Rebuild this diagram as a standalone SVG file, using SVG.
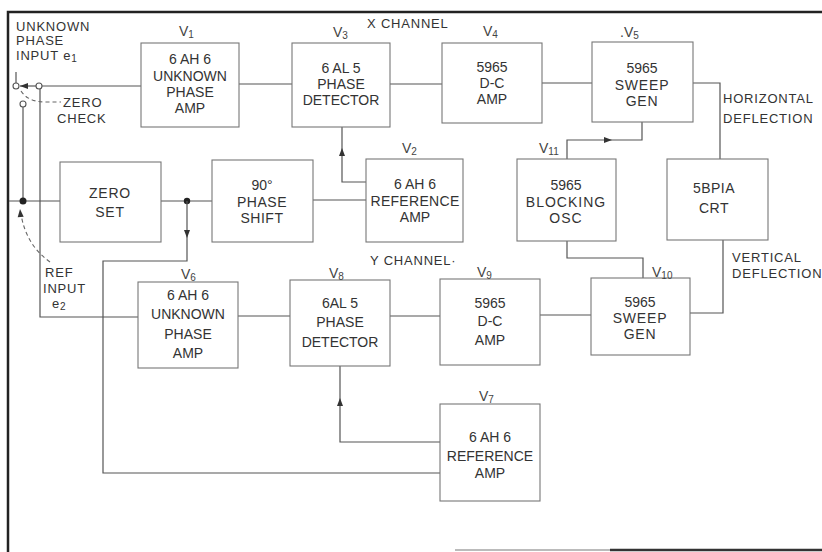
<svg xmlns="http://www.w3.org/2000/svg" width="822" height="552" viewBox="0 0 822 552">
<style>
  .box{fill:#fff;stroke:#777;stroke-width:1.1}
  .t{font-family:"Liberation Sans",Arial,sans-serif;font-size:14px;fill:#333;text-anchor:middle}
  .l{font-family:"Liberation Sans",Arial,sans-serif;font-size:13px;fill:#333;letter-spacing:0.8px}
  .v{font-family:"Liberation Sans",Arial,sans-serif;font-size:14px;fill:#444}
  .sub{font-size:10px}
  .w{fill:none;stroke:#555;stroke-width:1.2}
  .d{fill:none;stroke:#666;stroke-width:1.1;stroke-dasharray:4 3}
  .ah{fill:#333}
  .frame{stroke:#222;stroke-width:2.5;fill:none}
</style>
<defs>
  <path id="ah" d="M0,0 L-8,-3 L-8,3 Z"/>
</defs>
<rect width="822" height="552" fill="#fff"/>
<g id="frame">
  <path class="frame" d="M8,552 L8,12 L822,12"/>
  <path d="M455,550 L610,550" stroke="#bbb" stroke-width="2"/>
  <path d="M610,550 L822,550" stroke="#333" stroke-width="2.5"/>
</g>

<g id="connectors">
  <!-- input switch -->
  <path class="w" d="M16,72 L16,83"/>
  <path class="w" d="M36,86 L20,86"/>
  <use href="#ah" class="ah" transform="translate(20,86) rotate(180)"/>
  <path class="w" d="M42,86 L141,86"/>
  <path class="w" d="M40,89 L40,317 L138,317"/>
  <path class="w" d="M23,107 L23,201"/>
  <path class="w" d="M9,201 L60,201"/>
  <path class="d" d="M21,91 Q28,102 46,102 L61,102"/>
  <path class="d" d="M50,262 Q26,245 21,214"/>
  <use href="#ah" class="ah" transform="translate(20,209) rotate(-95)"/>
  <!-- X channel -->
  <path class="w" d="M239,84 L292,84"/>
  <path class="w" d="M390,84 L442,84"/>
  <path class="w" d="M542,83 L592,83"/>
  <path class="w" d="M693,83 L720,83 L720,159"/>
  <path class="w" d="M366,182 L342,182 L342,127"/>
  <use href="#ah" class="ah" transform="translate(342,148) rotate(-90)"/>
  <path class="w" d="M642,122 L642,140 L567,140 L567,159"/>
  <use href="#ah" class="ah" transform="translate(612,140)"/>
  <!-- middle row -->
  <path class="w" d="M161,201 L212,201"/>
  <path class="w" d="M313,200 L366,200"/>
  <circle cx="187" cy="201" r="3.2" fill="#222"/>
  <circle cx="23" cy="201" r="3.5" fill="#222"/>
  <path class="w" d="M187,201 L187,261 L103,261 L103,473 L440,473"/>
  <use href="#ah" class="ah" transform="translate(187,238) rotate(90)"/>
  <path class="w" d="M567,241 L567,258 L643,258 L643,278"/>
  <path class="w" d="M723,240 L723,313 L690,313"/>
  <!-- Y channel -->
  <path class="w" d="M238,316 L290,316"/>
  <path class="w" d="M390,316 L440,316"/>
  <path class="w" d="M540,315 L591,315"/>
  <path class="w" d="M440,442 L340,442 L340,366"/>
  <use href="#ah" class="ah" transform="translate(340,398) rotate(-90)"/>
  <!-- contacts -->
  <circle cx="16" cy="86" r="3" fill="#fff" stroke="#555" stroke-width="1.1"/>
  <circle cx="39" cy="86" r="3" fill="#fff" stroke="#555" stroke-width="1.1"/>
  <circle cx="23" cy="104" r="3" fill="#fff" stroke="#555" stroke-width="1.1"/>
</g>

<g id="labels">
  <text class="l" x="16" y="31">UNKNOWN</text>
  <text class="l" x="16" y="45">PHASE</text>
  <text class="l" x="16" y="60">INPUT  e<tspan class="sub" dy="2">1</tspan></text>
  <text class="l" x="63" y="107">ZERO</text>
  <text class="l" x="57" y="123">CHECK</text>
  <text class="l" x="45" y="277">REF</text>
  <text class="l" x="43" y="293">INPUT</text>
  <text class="l" x="52" y="308">e<tspan class="sub" dy="2">2</tspan></text>
  <text class="l" x="367" y="28">X CHANNEL</text>
  <text class="l" x="370" y="265">Y CHANNEL·</text>
  <text class="l" x="723" y="103">HORIZONTAL</text>
  <text class="l" x="723" y="123">DEFLECTION</text>
  <text class="l" x="732" y="262">VERTICAL</text>
  <text class="l" x="732" y="278">DEFLECTION</text>
</g>

<g id="V1">
  <rect class="box" x="141" y="43" width="98" height="84"/>
  <text class="v" x="179" y="36">V<tspan class="sub" dy="2">1</tspan></text>
  <text class="t" x="190" y="64">6 AH 6</text>
  <text class="t" x="190" y="81">UNKNOWN</text>
  <text class="t" x="190" y="97">PHASE</text>
  <text class="t" x="190" y="113">AMP</text>
</g>
<g id="V3">
  <rect class="box" x="292" y="43" width="98" height="84"/>
  <text class="v" x="333" y="37">V<tspan class="sub" dy="2">3</tspan></text>
  <text class="t" x="341" y="73">6 AL 5</text>
  <text class="t" x="341" y="89">PHASE</text>
  <text class="t" x="341" y="105">DETECTOR</text>
</g>
<g id="V4">
  <rect class="box" x="442" y="43" width="100" height="80"/>
  <text class="v" x="483" y="36">V<tspan class="sub" dy="2">4</tspan></text>
  <text class="t" x="492" y="72">5965</text>
  <text class="t" x="492" y="88">D-C</text>
  <text class="t" x="492" y="104">AMP</text>
</g>
<g id="V5">
  <rect class="box" x="592" y="42" width="101" height="80"/>
  <text class="v" x="620" y="37">.V<tspan class="sub" dy="2">5</tspan></text>
  <text class="t" x="642" y="73">5965</text>
  <text class="t" x="642" y="90" letter-spacing="0.8">SWEEP</text>
  <text class="t" x="642" y="106" letter-spacing="0.8">GEN</text>
</g>
<g id="ZERO_SET">
  <rect class="box" x="60" y="162" width="101" height="80"/>
  <text class="t" x="110" y="198" letter-spacing="0.8">ZERO</text>
  <text class="t" x="110" y="217" letter-spacing="0.8">SET</text>
</g>
<g id="PHASE_SHIFT">
  <rect class="box" x="212" y="160" width="101" height="82"/>
  <text class="t" x="262" y="190">90°</text>
  <text class="t" x="262" y="207" letter-spacing="0.5">PHASE</text>
  <text class="t" x="262" y="223" letter-spacing="0.5">SHIFT</text>
</g>
<g id="V2">
  <rect class="box" x="366" y="159" width="97" height="83"/>
  <text class="v" x="402" y="153">V<tspan class="sub" dy="2">2</tspan></text>
  <text class="t" x="415" y="189">6 AH 6</text>
  <text class="t" x="415" y="206" letter-spacing="0.3">REFERENCE</text>
  <text class="t" x="415" y="222">AMP</text>
</g>
<g id="V11">
  <rect class="box" x="517" y="159" width="99" height="82"/>
  <text class="v" x="539" y="153">V<tspan class="sub" dy="2">11</tspan></text>
  <text class="t" x="566" y="190">5965</text>
  <text class="t" x="566" y="207" letter-spacing="1">BLOCKING</text>
  <text class="t" x="566" y="223" letter-spacing="1">OSC</text>
</g>
<g id="CRT">
  <rect class="box" x="667" y="159" width="101" height="81"/>
  <text class="t" x="714" y="193" letter-spacing="0.5">5BPIA</text>
  <text class="t" x="714" y="213" letter-spacing="0.5">CRT</text>
</g>
<g id="V6">
  <rect class="box" x="138" y="282" width="100" height="86"/>
  <text class="v" x="181" y="279">V<tspan class="sub" dy="2">6</tspan></text>
  <text class="t" x="188" y="300">6 AH 6</text>
  <text class="t" x="188" y="319">UNKNOWN</text>
  <text class="t" x="188" y="339">PHASE</text>
  <text class="t" x="188" y="358">AMP</text>
</g>
<g id="V8">
  <rect class="box" x="290" y="280" width="100" height="86"/>
  <text class="v" x="329" y="278">V<tspan class="sub" dy="2">8</tspan></text>
  <text class="t" x="340" y="308">6AL 5</text>
  <text class="t" x="340" y="327">PHASE</text>
  <text class="t" x="340" y="347">DETECTOR</text>
</g>
<g id="V9">
  <rect class="box" x="440" y="279" width="100" height="86"/>
  <text class="v" x="477" y="277">V<tspan class="sub" dy="2">9</tspan></text>
  <text class="t" x="490" y="308">5965</text>
  <text class="t" x="490" y="326" fill="#888">D-C</text>
  <text class="t" x="490" y="345">AMP</text>
</g>
<g id="V10">
  <rect class="box" x="591" y="278" width="99" height="77"/>
  <text class="v" x="652" y="277">V<tspan class="sub" dy="2">10</tspan></text>
  <text class="t" x="640" y="307">5965</text>
  <text class="t" x="640" y="323" letter-spacing="0.8">SWEEP</text>
  <text class="t" x="640" y="339" letter-spacing="0.8">GEN</text>
</g>
<g id="V7">
  <rect class="box" x="440" y="404" width="100" height="97"/>
  <text class="v" x="479" y="401">V<tspan class="sub" dy="2">7</tspan></text>
  <text class="t" x="490" y="442">6 AH 6</text>
  <text class="t" x="490" y="461">REFERENCE</text>
  <text class="t" x="490" y="478">AMP</text>
</g>
</svg>
